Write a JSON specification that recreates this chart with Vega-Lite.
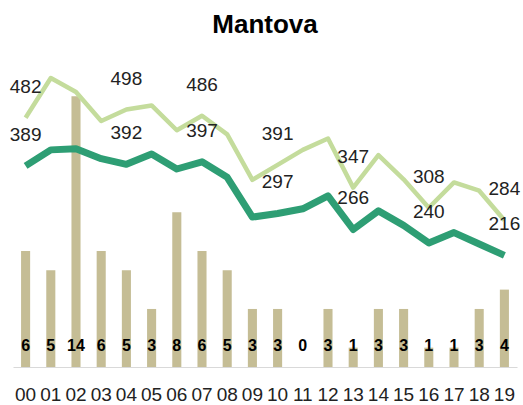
{
  "$schema": "https://vega.github.io/schema/vega-lite/v6.json",
  "width": 504,
  "height": 320,
  "autosize": {"type": "none"},
  "padding": {"left": 13, "top": 47, "right": 6, "bottom": 38},
  "background": "white",
  "config": {"view": {"stroke": null}, "font": "Liberation Sans"},
  "title": {"text": "Mantova", "fontSize": 26, "font": "Liberation Sans", "fontWeight": "bold", "anchor": "middle", "color": "#000000", "offset": 9},
  "data": {"values": [
    {"h": "00", "n": 6, "a": 482, "b": 389, "lab": 1},
    {"h": "01", "n": 5, "a": 559, "b": 420, "lab": 0},
    {"h": "02", "n": 14, "a": 532, "b": 422, "lab": 0},
    {"h": "03", "n": 6, "a": 476, "b": 403, "lab": 0},
    {"h": "04", "n": 5, "a": 498, "b": 392, "lab": 1},
    {"h": "05", "n": 3, "a": 506, "b": 412, "lab": 0},
    {"h": "06", "n": 8, "a": 458, "b": 383, "lab": 0},
    {"h": "07", "n": 6, "a": 486, "b": 397, "lab": 1},
    {"h": "08", "n": 5, "a": 450, "b": 367, "lab": 0},
    {"h": "09", "n": 3, "a": 362, "b": 290, "lab": 0},
    {"h": "10", "n": 3, "a": 391, "b": 297, "lab": 1},
    {"h": "11", "n": 0, "a": 420, "b": 306, "lab": 0},
    {"h": "12", "n": 3, "a": 442, "b": 331, "lab": 0},
    {"h": "13", "n": 1, "a": 347, "b": 266, "lab": 1},
    {"h": "14", "n": 3, "a": 410, "b": 302, "lab": 0},
    {"h": "15", "n": 3, "a": 363, "b": 274, "lab": 0},
    {"h": "16", "n": 1, "a": 308, "b": 240, "lab": 1},
    {"h": "17", "n": 1, "a": 357, "b": 260, "lab": 0},
    {"h": "18", "n": 3, "a": 341, "b": 238, "lab": 0},
    {"h": "19", "n": 4, "a": 284, "b": 216, "lab": 1}
  ]},
  "encoding": {
    "x": {"field": "h", "type": "ordinal", "scale": {"paddingInner": 0.64, "paddingOuter": 0.32},
      "axis": {"title": null, "labelAngle": 0, "labelFontSize": 19, "labelFont": "Liberation Sans", "labelColor": "#222222", "labelOverlap": false, "ticks": false, "domainColor": "#D9D9D9", "domainWidth": 1, "labelPadding": 18}}
  },
  "layer": [
    {"mark": {"type": "bar", "color": "#C5BD95"},
     "encoding": {"y": {"field": "n", "type": "quantitative", "scale": {"domain": [0, 16.54], "nice": false, "zero": true}, "axis": null}}},
    {"mark": {"type": "text", "fontSize": 16, "fontWeight": "bold", "color": "#000000", "baseline": "middle", "dy": -21},
     "encoding": {"y": {"datum": 0, "type": "quantitative", "scale": {"domain": [0, 16.54], "nice": false}, "axis": null}, "text": {"field": "n", "type": "quantitative"}}},
    {"mark": {"type": "line", "color": "#C4DC9C", "strokeWidth": 4.5, "strokeJoin": "round"},
     "encoding": {"y": {"field": "a", "type": "quantitative", "scale": {"domain": [0, 619], "nice": false}, "axis": null}}},
    {"mark": {"type": "line", "color": "#2E9E74", "strokeWidth": 7, "strokeJoin": "round"},
     "encoding": {"y": {"field": "b", "type": "quantitative", "scale": {"domain": [0, 619], "nice": false}, "axis": null}}},
    {"transform": [{"filter": "datum.lab == 1"}],
     "mark": {"type": "text", "fontSize": 19, "color": "#222222", "baseline": "middle", "dy": -31},
     "encoding": {"y": {"field": "a", "type": "quantitative", "scale": {"domain": [0, 619], "nice": false}, "axis": null}, "text": {"field": "a", "type": "quantitative"}}},
    {"transform": [{"filter": "datum.lab == 1"}],
     "mark": {"type": "text", "fontSize": 19, "color": "#222222", "baseline": "middle", "dy": -31},
     "encoding": {"y": {"field": "b", "type": "quantitative", "scale": {"domain": [0, 619], "nice": false}, "axis": null}, "text": {"field": "b", "type": "quantitative"}}}
  ],
  "resolve": {"scale": {"y": "independent"}}
}
